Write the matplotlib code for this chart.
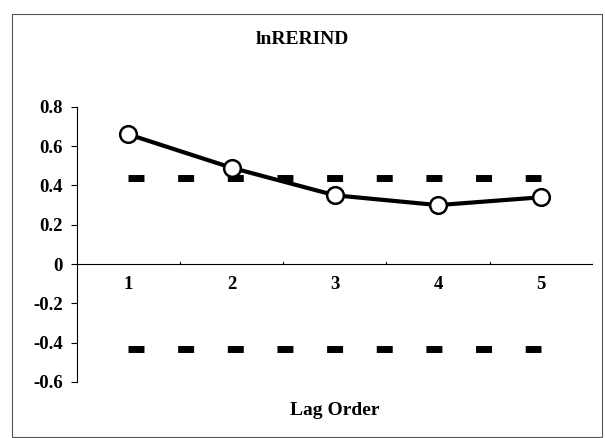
import matplotlib.pyplot as plt
from matplotlib.patches import Rectangle

# lag orders and estimated statistics
lags = [1, 2, 3, 4, 5]
values = [0.66, 0.49, 0.35, 0.30, 0.34]
upper_band = [0.44, 0.44, 0.44, 0.44, 0.44]
lower_band = [-0.43, -0.43, -0.43, -0.43, -0.43]
y_ticks = [-0.6, -0.4, -0.2, 0, 0.2, 0.4, 0.6, 0.8]
y_labels = ["-0.6", "-0.4", "-0.2", "0", "0.2", "0.4", "0.6", "0.8"]

plt.rcParams["font.family"] = ["Liberation Serif", "DejaVu Serif"]
plt.rcParams["font.weight"] = "bold"

fig = plt.figure(figsize=(6.05, 4.38), dpi=100)
ax = fig.add_axes([0.127, 0.128, 0.853, 0.628])

# outer chart frame
fig.patches.append(
    Rectangle((0.02, 0.002), 0.975, 0.966, transform=fig.transFigure,
              fill=False, edgecolor="#555555", linewidth=0.8)
)

# confidence bands
dash = (0, (2.3, 4.85))
ax.plot(lags, upper_band, color="black", linewidth=5, linestyle=dash,
        dash_capstyle="butt")
ax.plot(lags, lower_band, color="black", linewidth=5, linestyle=dash,
        dash_capstyle="butt")

# main series
ax.plot(lags, values, color="black", linewidth=3, marker="o",
        markersize=12, markerfacecolor="white", markeredgecolor="black",
        markeredgewidth=1.8, zorder=5)

ax.set_xlim(0.5, 5.5)
ax.set_ylim(-0.6, 0.8)

for side in ["top", "right", "bottom"]:
    ax.spines[side].set_visible(False)
ax.spines["left"].set_linewidth(0.8)

# x axis line at zero with ticks between categories
ax.axhline(0, color="black", linewidth=0.8)
for xb in [1.5, 2.5, 3.5, 4.5, 5.5]:
    ax.plot([xb, xb], [0, 0.012], color="black", linewidth=0.8)

ax.set_yticks(y_ticks)
ax.set_yticklabels(y_labels, fontsize=13.5, fontweight="bold")
ax.tick_params(axis="y", length=4, width=0.8, pad=6)

ax.set_xticks([])
for x in lags:
    ax.text(x, -0.06, str(x), ha="center", va="top", fontsize=13.5,
            fontweight="bold")

fig.text(0.5, 0.909, "lnRERIND", ha="center", va="center", fontsize=14,
         fontweight="bold")
fig.text(0.553, 0.062, "Lag Order", ha="center", va="center", fontsize=14,
         fontweight="bold")

fig.savefig("out.png", dpi=100)
